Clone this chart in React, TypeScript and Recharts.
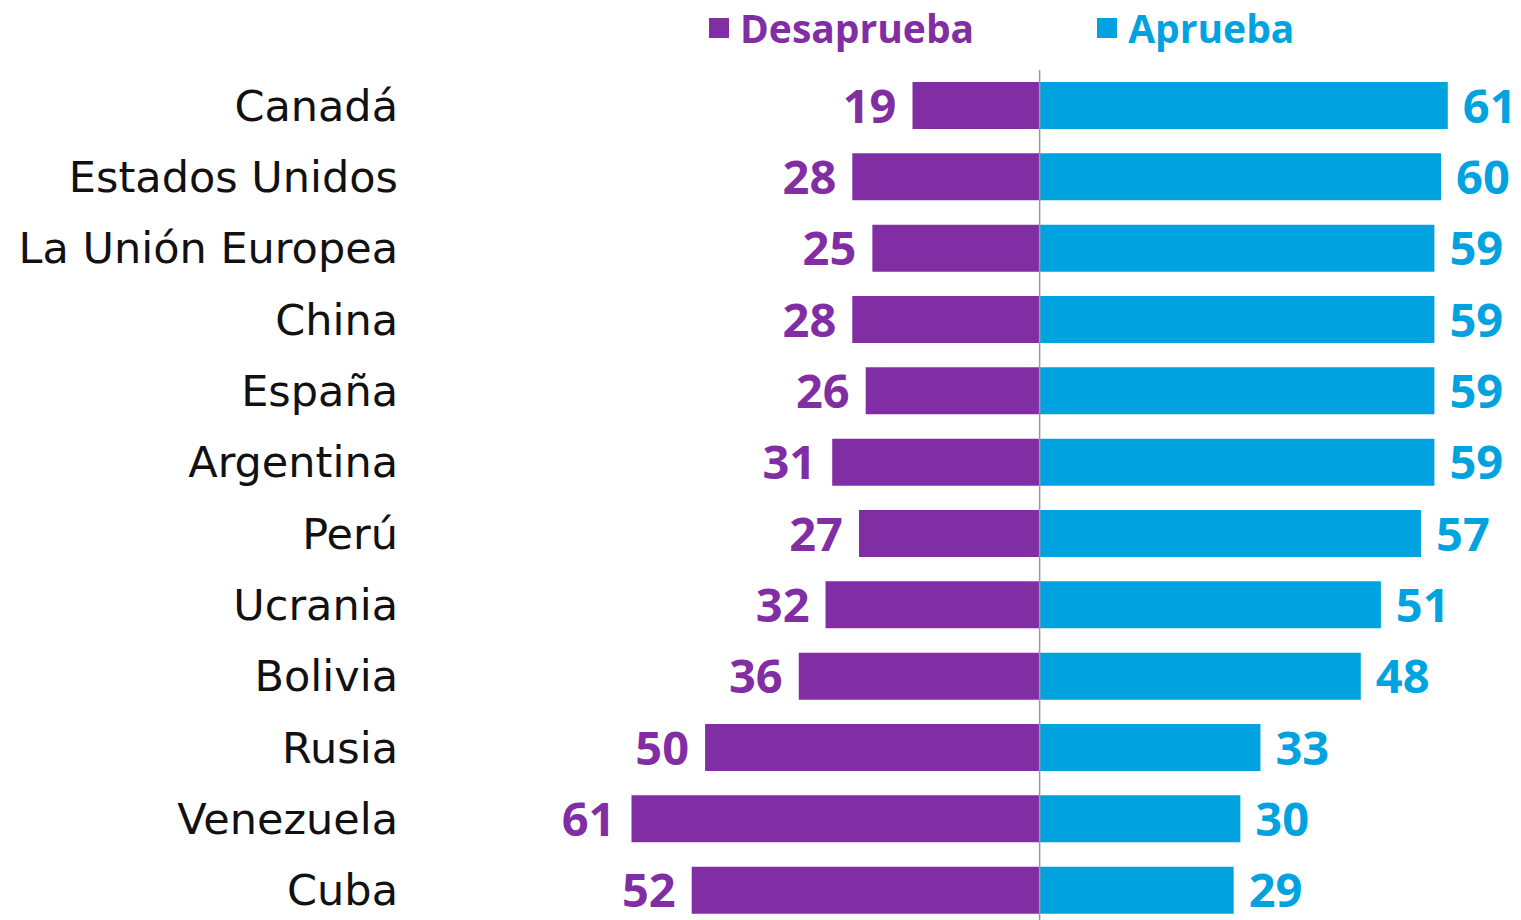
import { BarChart, Bar, XAxis, YAxis, ReferenceLine, LabelList } from "recharts";

const SANS = "'DejaVu Sans', sans-serif";
const BOLD = "'Open Sans', sans-serif";

const PURPLE = "#812EA5";
const BLUE = "#00A3E0";

const countries = [
  "Canadá",
  "Estados Unidos",
  "La Unión Europea",
  "China",
  "España",
  "Argentina",
  "Perú",
  "Ucrania",
  "Bolivia",
  "Rusia",
  "Venezuela",
  "Cuba",
];
const desaprueba = [19, 28, 25, 28, 26, 31, 27, 32, 36, 50, 61, 52];
const aprueba = [61, 60, 59, 59, 59, 59, 57, 51, 48, 33, 30, 29];

const series = [
  { key: "des", name: "Desaprueba", color: PURPLE },
  { key: "apr", name: "Aprueba", color: BLUE },
];

const rows = countries.map((country, i) => ({
  country,
  des: -desaprueba[i],
  apr: aprueba[i],
}));

const CountryTick = ({ x, y, payload }: any) => (
  <text x={x} y={y} dy={15} textAnchor="end" fontFamily={SANS} fontSize={43} fill="#111">
    {payload.value}
  </text>
);

const valueLabel = (color: string, side: "left" | "right") => (props: any) => {
  const x = Number(props.x);
  const w = Number(props.width);
  const y = Number(props.y);
  const h = Number(props.height);
  const l = Math.min(x, x + w);
  const r = Math.max(x, x + w);
  const tx = side === "left" ? l - 16 : r + 15;
  return (
    <text
      x={tx}
      y={y + h / 2}
      dy={17}
      textAnchor={side === "left" ? "end" : "start"}
      fontFamily={BOLD}
      fontWeight={700}
      fontSize={47}
      fill={color}
    >
      {Math.abs(Number(props.value))}
    </text>
  );
};

export default function App() {
  return (
    <div style={{ position: "fixed", top: 0, left: 0, width: 1521, height: 920, overflow: "hidden", background: "#fff" }}>
      <div style={{ position: "absolute", top: 8, left: 709, display: "flex", gap: 123, height: 40, alignItems: "center" }}>
        {series.map(s => (
          <div key={s.key} style={{ display: "flex", alignItems: "center", gap: 11 }}>
            <span style={{ width: 20, height: 20, background: s.color, display: "inline-block" }} />
            <span style={{ fontFamily: BOLD, fontWeight: 700, fontSize: 39, color: s.color, lineHeight: "40px" }}>{s.name}</span>
          </div>
        ))}
      </div>
      <BarChart
        width={1521}
        height={930}
        data={rows}
        layout="vertical"
        stackOffset="sign"
        margin={{ top: 70, right: 13, bottom: 4, left: 0 }}
      >
        <XAxis type="number" domain={[-95, 70]} hide />
        <YAxis
          type="category"
          dataKey="country"
          width={404}
          axisLine={false}
          tickLine={false}
          tickSize={0}
          tickMargin={6}
          tick={<CountryTick />}
          interval={0}
        />
        <Bar dataKey="des" name="Desaprueba" stackId="a" fill={PURPLE} barSize={47} isAnimationActive={false}>
          <LabelList dataKey="des" content={valueLabel(PURPLE, "left")} />
        </Bar>
        <Bar dataKey="apr" name="Aprueba" stackId="a" fill={BLUE} barSize={47} isAnimationActive={false}>
          <LabelList dataKey="apr" content={valueLabel(BLUE, "right")} />
        </Bar>
        <ReferenceLine x={0} stroke="#999" strokeWidth={1.5} />
      </BarChart>
    </div>
  );
}
